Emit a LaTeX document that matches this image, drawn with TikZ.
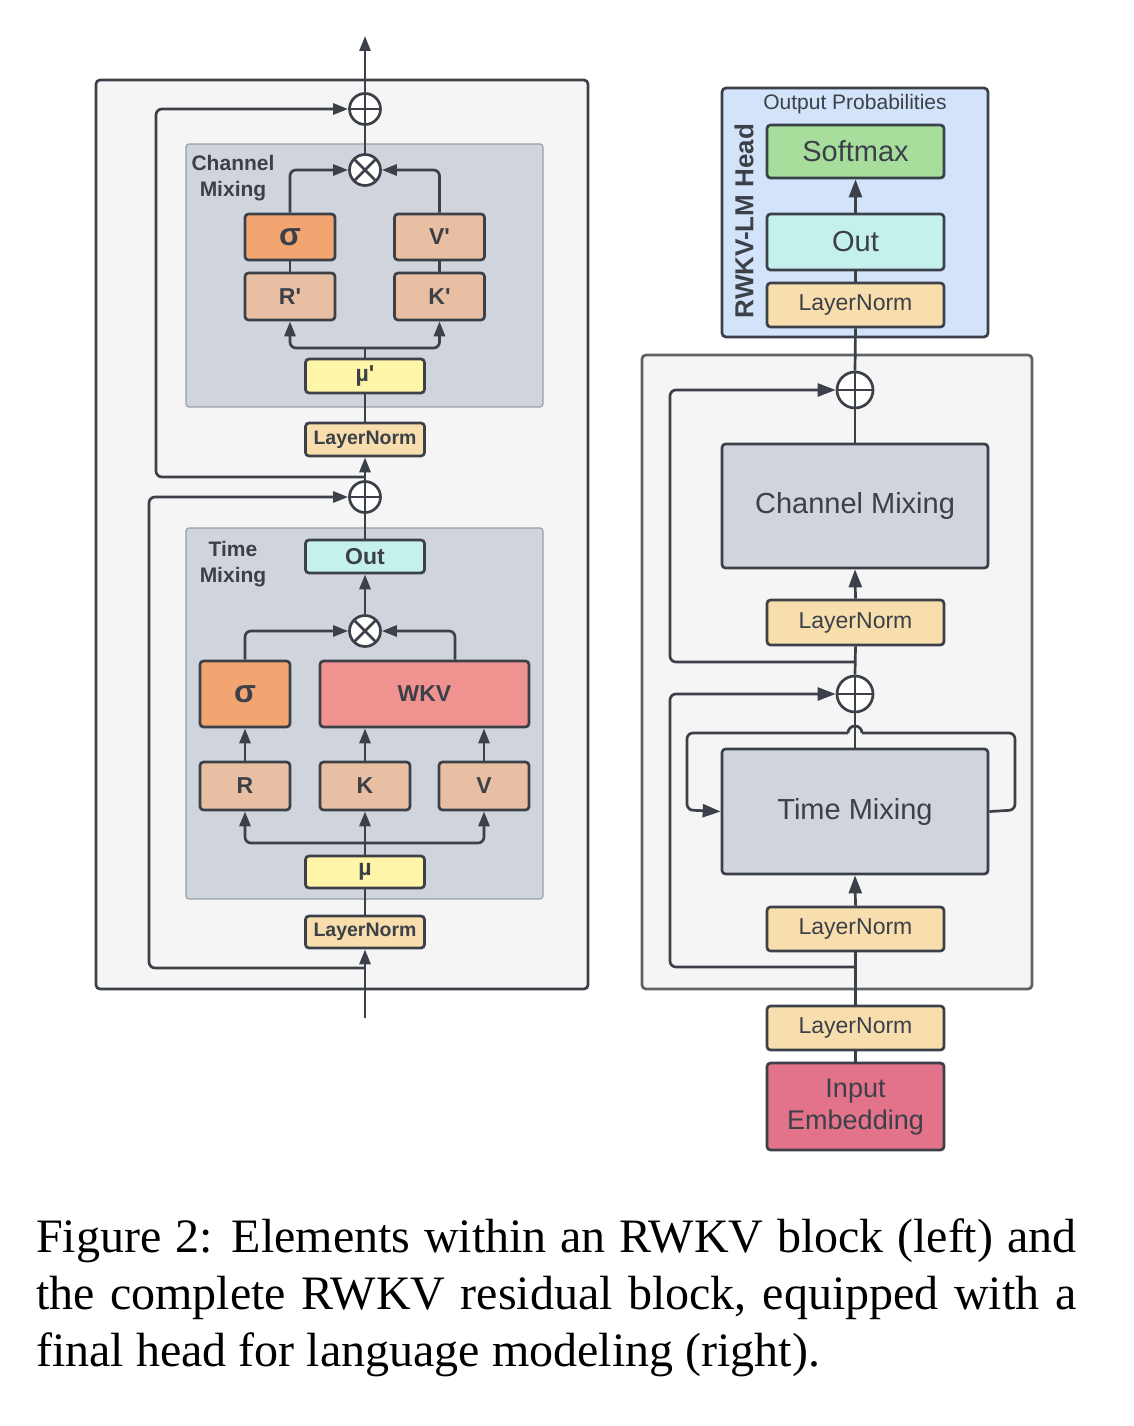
\documentclass[tikz,border=0pt]{standalone}
\usepackage{fontspec}
\setmainfont{Liberation Serif}
\newfontfamily\dsans{Liberation Sans}
\usetikzlibrary{arrows.meta,calc}
\definecolor{dk}{HTML}{3B4049}
\definecolor{outerbg}{HTML}{F5F5F5}
\definecolor{resline}{HTML}{5F6266}
\definecolor{grpfill}{HTML}{D0D4DC}
\definecolor{grpline}{HTML}{9A9FA6}
\definecolor{sigc}{HTML}{F2A571}
\definecolor{tanc}{HTML}{E8BFA3}
\definecolor{muc}{HTML}{FFF5A8}
\definecolor{lnc}{HTML}{F8DEAD}
\definecolor{outc}{HTML}{C4F1EB}
\definecolor{wkvc}{HTML}{F0928F}
\definecolor{smc}{HTML}{A7DE9B}
\definecolor{headc}{HTML}{D3E3FA}
\definecolor{embc}{HTML}{E2738A}
\tikzset{
 conn/.style={draw=dk, line width=2.7pt},
 arr/.style={conn, -{Triangle[length=15pt,width=11pt]}},
 arrR/.style={conn, -{Triangle[length=18pt,width=13pt]}},
 bx/.style={draw=dk, line width=2.7pt, rounded corners=3.5pt, inner sep=0pt, text=dk, align=center},
 lb/.style={bx, font=\dsans\bfseries\fontsize{23}{27}\selectfont},
 rb/.style={bx, font=\dsans\fontsize{23}{27}\selectfont},
 rbig/.style={bx, font=\dsans\fontsize{29}{33}\selectfont},
 grp/.style={draw=grpline, line width=1.2pt, fill=grpfill, rounded corners=3pt, inner sep=0pt},
 oplus/.style={circle, draw=dk, line width=2.7pt, fill=white, inner sep=0pt,
   path picture={\draw[dk, line width=2.7pt] (path picture bounding box.north) -- (path picture bounding box.south) (path picture bounding box.west) -- (path picture bounding box.east);}},
 otimes/.style={circle, draw=dk, line width=2.7pt, fill=white, inner sep=0pt,
   path picture={\draw[dk, line width=2.7pt] (path picture bounding box.north west) -- (path picture bounding box.south east) (path picture bounding box.north east) -- (path picture bounding box.south west);}},
 lab/.style={text=dk, align=center, inner sep=0pt},
}
\begin{document}
\begin{tikzpicture}[x=1pt,y=-1pt]
\useasboundingbox (0,0) rectangle (1134,1426);
\fill[white] (0,0) rectangle (1134,1426);

% ================= LEFT PANEL =================
\node[draw=dk, line width=2.7pt, fill=outerbg, rounded corners=4pt, inner sep=0pt, minimum width=492pt, minimum height=909pt] (outerL) at (342,534.5) {};
\node[grp, minimum width=357pt, minimum height=263pt] (cmgrp) at (364.5,275.5) {};
\node[grp, minimum width=357pt, minimum height=371pt] (tmgrp) at (364.5,713.5) {};
\node[lab, font=\dsans\bfseries\fontsize{21}{26}\selectfont] (cmlab) at (233,178) {Channel\\Mixing};
\node[lab, font=\dsans\bfseries\fontsize{21}{26}\selectfont] (tmlab) at (233,564) {Time\\Mixing};

% circles
\node[oplus, minimum size=31pt] (p3) at (365,109) {};
\node[otimes, minimum size=31pt] (x2) at (365,170) {};
\node[oplus, minimum size=31pt] (p2) at (365,497) {};
\node[otimes, minimum size=31pt] (x1) at (365,631) {};

% channel mixing boxes
\node[lb, fill=sigc, minimum width=90pt, minimum height=46pt, font=\dsans\bfseries\fontsize{32}{34}\selectfont] (sp) at (290,237) {σ};
\node[lb, fill=tanc, minimum width=90pt, minimum height=46pt] (vp) at (439.5,237) {V'};
\node[lb, fill=tanc, minimum width=90pt, minimum height=47pt] (rp) at (290,296.5) {R'};
\node[lb, fill=tanc, minimum width=90pt, minimum height=47pt] (kp) at (439.5,296.5) {K'};
\node[lb, fill=muc, minimum width=119pt, minimum height=34pt] (mup) at (365,376) {µ'};
\node[lb, fill=lnc, minimum width=119pt, minimum height=33pt, font=\dsans\bfseries\fontsize{19.5}{22}\selectfont] (ln2) at (365,439.5) {LayerNorm};

% time mixing boxes
\node[lb, fill=outc, minimum width=119pt, minimum height=33pt] (out) at (365,556.5) {Out};
\node[lb, fill=sigc, minimum width=90pt, minimum height=66pt, font=\dsans\bfseries\fontsize{32}{34}\selectfont] (sig) at (245,694) {σ};
\node[lb, fill=wkvc, minimum width=209pt, minimum height=66pt] (wkv) at (424.5,694) {WKV};
\node[lb, fill=tanc, minimum width=90pt, minimum height=48pt] (r) at (245,786) {R};
\node[lb, fill=tanc, minimum width=90pt, minimum height=48pt] (k) at (365,786) {K};
\node[lb, fill=tanc, minimum width=90pt, minimum height=48pt] (v) at (484,786) {V};
\node[lb, fill=muc, minimum width=119pt, minimum height=32pt] (mu) at (365,872) {µ};
\node[lb, fill=lnc, minimum width=119pt, minimum height=32pt, font=\dsans\bfseries\fontsize{19.5}{22}\selectfont] (ln1) at (365,932) {LayerNorm};

\coordinate (inL) at (365,1018);
\coordinate (j1) at (365,968);
\coordinate (b1) at (365,843);
\coordinate (j2) at (365,477);
\coordinate (b2) at (365,348);
\coordinate (outTop) at (365,36);

% left connectors
\draw[arr] (inL) -- (ln1.south);
\draw[arr, rounded corners=6pt] (j1) -- (149,968) -- (149,497) -- (p2.west);
\draw[conn] (ln1.north) -- (mu.south);
\draw[arr] (mu.north) -- (k.south);
\draw[arr, rounded corners=6pt] (b1) -| (r.south);
\draw[arr, rounded corners=6pt] (b1) -| (v.south);
\draw[arr] (r.north) -- (sig.south);
\draw[arr] (k.north) -- (k.north |- wkv.south);
\draw[arr] (v.north) -- (v.north |- wkv.south);
\draw[arr, rounded corners=6pt] (sig.north) |- (x1.west);
\draw[arr, rounded corners=6pt] ([xshift=30.5pt]wkv.north) |- (x1.east);
\draw[arr] (x1.north) -- (out.south);
\draw[conn] (out.north) -- (p2.south);
\draw[arr] (p2.north) -- (ln2.south);
\draw[arr, rounded corners=6pt] (j2) -- (156,477) -- (156,109) -- (p3.west);
\draw[conn] (ln2.north) -- (mup.south);
\draw[conn] (mup.north) -- (b2);
\draw[arr, rounded corners=6pt] (b2) -| (rp.south);
\draw[arr, rounded corners=6pt] (b2) -| (kp.south);
\draw[conn] (rp.north) -- (sp.south);
\draw[conn] (kp.north) -- (vp.south);
\draw[arr, rounded corners=6pt] (sp.north) |- (x2.west);
\draw[arr, rounded corners=6pt] (vp.north) |- (x2.east);
\draw[conn] (x2.north) -- (p3.south);
\draw[arr] (p3.north) -- (outTop);

% ================= RIGHT PANEL =================
\node[draw=dk, line width=2.7pt, fill=headc, rounded corners=4pt, inner sep=0pt, minimum width=266pt, minimum height=249pt] (head) at (855,212.5) {};
\node[lab, font=\dsans\fontsize{21}{24}\selectfont] (oplab) at (855,104) {Output Probabilities};
\node[lab, rotate=90, font=\dsans\bfseries\fontsize{26}{30}\selectfont] (headlab) at (744,221) {RWKV-LM Head};
\node[rbig, fill=smc, minimum width=177pt, minimum height=53pt] (soft) at (855.5,151.5) {Softmax};
\node[rbig, fill=outc, minimum width=177pt, minimum height=56pt] (outR) at (855.5,242) {Out};
\node[rb, fill=lnc, minimum width=177pt, minimum height=44pt] (lnD) at (855.5,305) {LayerNorm};

\node[draw=resline, line width=2.7pt, fill=outerbg, rounded corners=4pt, inner sep=0pt, minimum width=390pt, minimum height=634pt] (res) at (837,672) {};
\node[oplus, minimum size=36pt] (pR2) at (855,390) {};
\node[rbig, fill=grpfill, minimum width=266pt, minimum height=124pt] (cm) at (855,506) {Channel Mixing};
\node[rb, fill=lnc, minimum width=177pt, minimum height=45pt] (lnC) at (855.5,622.5) {LayerNorm};
\node[oplus, minimum size=36pt] (pR1) at (855,694) {};
\node[rbig, fill=grpfill, minimum width=266pt, minimum height=125pt] (tm) at (855,811.5) {Time Mixing};
\node[rb, fill=lnc, minimum width=177pt, minimum height=44pt] (lnB) at (855.5,929) {LayerNorm};
\node[rb, fill=lnc, minimum width=177pt, minimum height=44pt] (lnA) at (855.5,1028) {LayerNorm};
\node[bx, fill=embc, minimum width=177pt, minimum height=87pt, font=\dsans\fontsize{27}{32}\selectfont] (emb) at (855.5,1106.5) {Input\\Embedding};

\coordinate (jR1) at (855,967);
\coordinate (jR2) at (855,662);
\coordinate (hopR) at (862,733);
\coordinate (hopL) at (848,733);

\draw[conn] (emb.north) -- (lnA.south);
\draw[conn] (lnA.north) -- (lnB.south);
\draw[arrR, rounded corners=6pt] (jR1) -- (670,967) -- (670,694) -- (pR1.west);
\draw[arrR] (lnB.north) -- (tm.south);
\draw[conn] (tm.north) -- (pR1.south);
% feedback loop around Time Mixing with a hop over the main line
\draw[conn, rounded corners=6pt] (tm.east) -- (1015,810) -- (1015,733) -- (hopR);
\draw[conn] (hopR) arc (0:-180:7);
\draw[arrR, rounded corners=6pt] (hopL) -- (687,733) -- (687,810) -- (tm.west);
\draw[conn] (pR1.north) -- (lnC.south);
\draw[arrR, rounded corners=6pt] (jR2) -- (670,662) -- (670,390) -- (pR2.west);
\draw[arrR] (lnC.north) -- (cm.south);
\draw[conn] (cm.north) -- (pR2.south);
\draw[conn] (pR2.north) -- (lnD.south);
\draw[conn] (lnD.north) -- (outR.south);
\draw[arrR] (outR.north) -- (soft.south);

% ================= CAPTION =================
\node[anchor=base west, inner sep=0pt, font=\fontsize{48}{57}\selectfont] (cap1) at (36,1252) {\makebox[1040pt][s]{Figure 2: Elements within an RWKV block (left) and}};
\node[anchor=base west, inner sep=0pt, font=\fontsize{48}{57}\selectfont] (cap2) at (36,1309) {\makebox[1040pt][s]{the complete RWKV residual block, equipped with a}};
\node[anchor=base west, inner sep=0pt, font=\fontsize{48}{57}\selectfont] (cap3) at (36,1366) {final head for language modeling (right).};
\end{tikzpicture}
\end{document}
